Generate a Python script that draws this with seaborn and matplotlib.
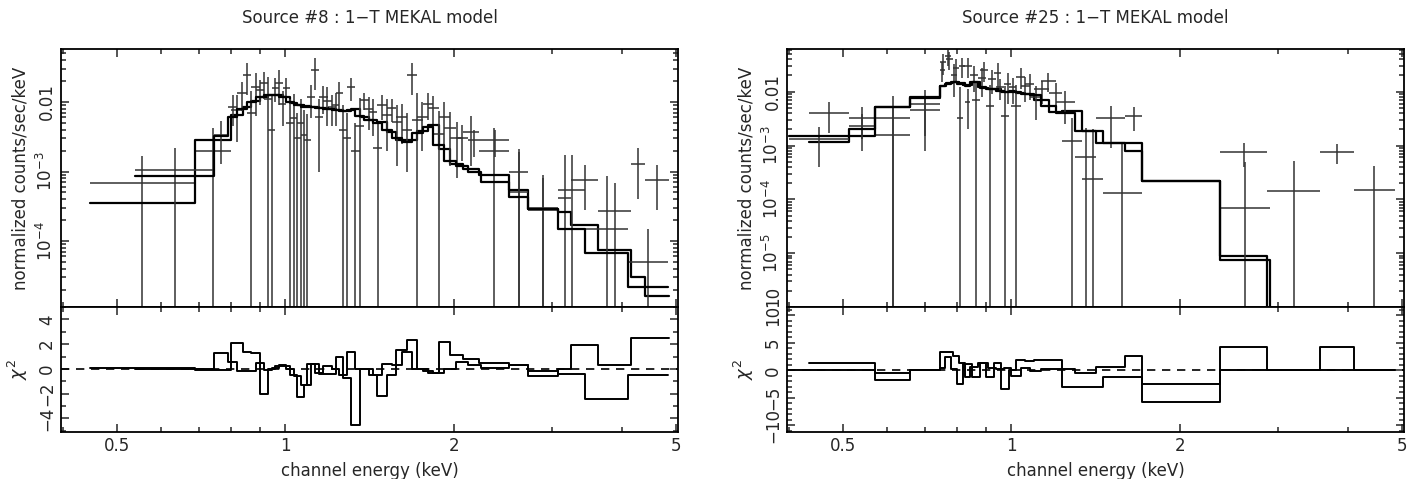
import numpy as np
import pandas as pd
import matplotlib
matplotlib.use('Agg')
import matplotlib.pyplot as plt
import seaborn as sns
from matplotlib.ticker import FixedLocator, FixedFormatter, NullFormatter, MultipleLocator

# ---------------- Source #8 (left) ----------------
titles = ['Source #8 : 1\u2212T MEKAL model', 'Source #25 : 1\u2212T MEKAL model']

s8_a_edges = [0.447, 0.689, 0.80, 0.84, 0.87, 0.90, 0.93, 0.96, 0.99, 1.02, 1.05, 1.08, 1.11, 1.15, 1.19,
              1.23, 1.27, 1.31, 1.36, 1.41, 1.46, 1.52, 1.58, 1.65, 1.72, 1.80, 1.88, 1.97, 2.08, 2.22,
              2.51, 2.72, 3.08, 3.25, 3.63, 4.15, 4.40, 4.85]
s8_a_model = [3.5e-4, 2.8e-3, 6.5e-3, 8.5e-3, 0.0105, 0.0120, 0.0128, 0.0128, 0.0120, 0.0098, 0.0090, 0.0087,
              0.0085, 0.0082, 0.0080, 0.0076, 0.0075, 0.0080, 0.0060, 0.0055, 0.0052, 0.0037, 0.0028, 0.0028,
              0.0038, 0.0046, 0.0021, 0.0013, 0.0011, 9.0e-4, 5.4e-4, 2.9e-4, 2.6e-4, 1.7e-4, 7.4e-5, 3.0e-5, 1.6e-5]
s8_a_data = [6.8e-4, 2.0e-3, 7.7e-3, 0.0245, 0.0164, 0.019, 0.004, 0.019, 0.016, 0.0059, 0.005, 0.0028,
             0.029, 0.0118, 0.0085, 0.0135, 0.003, 0.002, 0.0107, 0.0072, 0.0091, 0.0082, 0.006, 0.0245,
             0.006, 0.0082, 0.006, 0.003, 0.0037, 0.002, 0.001, 2.8e-4, 4.2e-4, 7.6e-4, 2.7e-4, 1.3e-3, 7.6e-4]
s8_a_err = [1.0e-3, 2.2e-3, 5e-3, 0.012, 0.010, 0.008, 0.0086, 0.010, 0.006, 0.007, 0.006, 0.004, 0.014,
            0.005, 0.004, 0.006, 0.004, 0.003, 0.003, 0.004, 0.0035, 0.003, 0.0035, 0.012, 0.004, 0.004,
            0.004, 0.0022, 0.0025, 0.0022, 0.0011, 6e-4, 1.3e-3, 4.8e-4, 4.1e-4, 9e-4, 4.8e-4]
s8_a_chi = [0.1, -0.1, 2.1, 1.4, 1.3, -2.0, 0.0, 0.2, 0.2, -0.5, -2.3, -1.3, 0.4, -0.4, -0.4, 1.0, -0.7,
            -4.5, 0.0, -0.5, -2.2, -0.5, 1.5, 2.3, 0.0, -0.3, 2.2, 1.1, 0.8, 0.5, 0.3, -0.6, 0.0, 1.9, 0.3,
            2.5, 2.5]

s8_b_edges = [0.538, 0.747, 0.79, 0.82, 0.855, 0.885, 0.915, 0.945, 0.975, 1.005, 1.035, 1.065, 1.095,
              1.13, 1.17, 1.21, 1.25, 1.29, 1.335, 1.385, 1.435, 1.49, 1.55, 1.615, 1.685, 1.76, 1.84,
              1.925, 2.02, 2.12, 2.24, 2.51, 2.72, 3.08, 3.44, 4.10, 4.83]
s8_b_model = [8.6e-4, 3.2e-3, 6.0e-3, 8.0e-3, 0.0100, 0.0118, 0.0125, 0.0125, 0.0118, 0.0100, 0.0090,
              0.0086, 0.0084, 0.0081, 0.0079, 0.0076, 0.0074, 0.0078, 0.0062, 0.0055, 0.0050, 0.0040,
              0.0030, 0.0027, 0.0036, 0.0044, 0.0024, 0.0014, 0.0012, 0.0010, 7.0e-4, 4.3e-4, 2.9e-4,
              1.5e-4, 6.7e-5, 2.2e-5]
s8_b_data = [1.05e-3, 3.3e-3, 0.0085, 0.0135, 0.0070, 0.0150, 0.0110, 0.0160, 0.0095, 0.0050, 0.0030,
             0.0033, 0.0118, 0.0060, 0.0105, 0.0090, 0.0040, 0.0164, 0.0045, 0.0080, 0.0022, 0.0065,
             0.0052, 0.0040, 0.0055, 0.0095, 0.0035, 0.0042, 0.0030, 0.0028, 0.0028, 5.0e-4, 3.0e-4,
             5.4e-4, 1.5e-4, 5e-5]
s8_b_err = [1.15e-3, 2.0e-3, 0.004, 0.006, 0.0075, 0.006, 0.012, 0.006, 0.005, 0.006, 0.004, 0.0045,
            0.006, 0.005, 0.006, 0.0045, 0.005, 0.006, 0.007, 0.004, 0.003, 0.0045, 0.004, 0.003, 0.008,
            0.004, 0.004, 0.003, 0.0016, 0.0012, 0.0012, 1.4e-3, 5e-4, 1.2e-3, 7e-4, 1.0e-4]
s8_b_chi = [0.0, 1.3, 0.6, -0.2, -0.2, 0.5, -0.1, 0.1, 0.3, 0.0, -0.6, -1.3, 0.4, -0.3, 0.2, 0.0, -0.5,
            1.4, 0.0, 0.0, -0.5, 0.4, 0.3, 1.4, 0.0, -0.2, -0.3, 0.0, 0.6, 0.3, 0.1, 0.3, -0.2, -0.4,
            -2.4, -0.5]

# ---------------- Source #25 (right) ----------------
s25_a_edges = [0.435, 0.512, 0.57, 0.66, 0.745, 0.765, 0.785, 0.805, 0.825, 0.845, 0.87, 0.90, 0.93,
               0.96, 0.99, 1.02, 1.06, 1.10, 1.17, 1.23, 1.34, 1.46, 1.71, 2.36, 2.87, 3.56, 4.10, 4.85]
s25_a_model = [1.15e-3, 1.5e-3, 5.3e-3, 8.0e-3, 0.0125, 0.0145, 0.015, 0.0145, 0.0130, 0.0150, 0.0120,
               0.0110, 0.0110, 0.0100, 0.0105, 0.0095, 0.0090, 0.0070, 0.0042, 0.0043, 0.0019, 0.0011,
               2.2e-4, 8.7e-6, 3e-7, 3e-7, 3e-7]
s25_a_data = [4.1e-3, 3.3e-3, 1.6e-3, 5.8e-3, 0.035, 0.040, 0.028, 0.030, 6.5e-3, 0.020, 0.018, 5.5e-3,
              0.022, 3.5e-3, 0.012, 0.019, 0.014, 0.011, 0.0095, 1.2e-3, 2.4e-4, 1.3e-4, 2e-7, 7.5e-4,
              1.4e-4, 7.5e-4, 1.5e-4]
s25_a_err = [2.4e-3, 2.0e-3, 3.4e-3, 5.0e-3, 0.015, 0.015, 0.012, 0.012, 4.5e-3, 0.010, 0.010, 8e-3,
             0.012, 9e-3, 6e-3, 8e-3, 7e-3, 5e-3, 5e-3, 2.1e-3, 1.8e-3, 1.0e-3, 5e-7, 3.5e-4, 3.8e-4,
             3.0e-4, 2.7e-4]
s25_a_chi = [1.3, 1.3, -1.7, 0.0, 3.3, 3.3, 2.7, 1.3, -1.2, 0.7, 1.3, -1.2, 1.3, -3.4, 0.0, 1.9, 1.7,
             1.9, 1.9, -3.1, -3.1, -1.2, -5.8, 4.3, 0.0, 4.3, 0.1]

s25_b_edges = [0.40, 0.512, 0.57, 0.66, 0.745, 0.76, 0.78, 0.80, 0.82, 0.85, 0.88, 0.91, 0.94, 0.97,
               1.00, 1.04, 1.08, 1.13, 1.20, 1.30, 1.42, 1.60, 1.71, 2.36, 2.90, 3.56, 4.10, 4.85]
s25_b_model = [1.5e-3, 2.0e-3, 5.1e-3, 7.5e-3, 0.0125, 0.0140, 0.0150, 0.0140, 0.0135, 0.0150, 0.0115,
               0.0110, 0.0105, 0.0100, 0.0100, 0.0090, 0.0085, 0.0055, 0.0041, 0.0019, 0.0011, 7.9e-4,
               2.2e-4, 7.4e-6, 3e-7, 3e-7, 3e-7]
s25_b_data = [1.3e-3, 2.3e-3, 3.3e-3, 4.5e-3, 0.025, 0.045, 0.020, 3.3e-3, 0.030, 7.0e-3, 0.025, 0.017,
              0.012, 0.014, 5.5e-3, 0.0125, 0.008, 0.016, 6.5e-3, 6e-4, 3.2e-3, 3.6e-3, 2e-7, 7e-5, 2e-7,
              2e-7, 2e-7]
s25_b_err = [9e-4, 1.5e-3, 5e-3, 3e-3, 0.010, 0.015, 0.012, 9e-3, 0.012, 9e-3, 0.010, 8e-3, 5e-3, 8e-3,
             8e-3, 6e-3, 5e-3, 6e-3, 4e-3, 1.5e-3, 2.3e-3, 1.7e-3, 5e-7, 4.2e-4, 5e-7, 5e-7, 5e-7]
s25_b_chi = [0.0, 0.1, -0.4, 0.0, 0.5, 2.5, 0.3, -2.5, 1.2, -1.2, 1.3, 0.5, 0.2, 0.4, -1.0, 0.5, -0.2,
             0.3, 0.3, -0.4, 0.7, 2.7, -2.5, 0.0, 0.0, 0.0, 0.0]

x_ticks = [0.5, 1, 2, 5]
x_labels = ['0.5', '1', '2', '5']

s8_yticks = [1e-4, 1e-3, 1e-2]
s8_ylabels = [r'$10^{-4}$', r'$10^{-3}$', '0.01']
s25_yticks = [1e-6, 1e-5, 1e-4, 1e-3, 1e-2]
s25_ylabels = ['10', r'$10^{-5}$', r'$10^{-4}$', r'$10^{-3}$', '0.01']

s8_rticks = [-4, -2, 0, 2, 4]
s25_rticks = [-10, -5, 0, 5, 10]


sns.set_style('ticks')
plt.rcParams['font.family'] = ['DejaVu Sans']
plt.rcParams['mathtext.fontset'] = 'dejavusans'
plt.rcParams['axes.linewidth'] = 1.3

FS = 12

fig = plt.figure(figsize=(14.17, 4.79), dpi=100)


def style_axes(ax):
    ax.tick_params(which='both', direction='in', top=True, right=True, width=1.1, labelsize=FS)
    ax.tick_params(which='major', length=6)
    ax.tick_params(which='minor', length=3.5)
    for sp in ax.spines.values():
        sp.set_color('black')


def steps(ax, edges, vals, lw):
    df = pd.DataFrame({'E': edges, 'v': list(vals) + [vals[-1]]})
    sns.lineplot(data=df, x='E', y='v', ax=ax, drawstyle='steps-post', estimator=None,
                 sort=False, color='black', lw=lw, legend=False)


def spectrum(ax, edges, model, data, err, ybottom):
    e = np.array(edges)
    lo, hi = e[:-1], e[1:]
    xc = np.sqrt(lo * hi)
    d = np.array(data)
    s = np.array(err)
    low = np.where(d - s > 0, s, d - ybottom * 0.01)
    ax.errorbar(xc, d, xerr=[xc - lo, hi - xc], yerr=[low, s], fmt='none',
                ecolor='#333333', elinewidth=1.1, capsize=0)
    steps(ax, edges, model, 1.6)


panels = [
    dict(left=0.043, title=titles[0], ylim=(1.12e-5, 0.058), yt=s8_yticks, yl=s8_ylabels,
         rlim=(-5.1, 5.0), rt=s8_rticks,
         sets=[(s8_a_edges, s8_a_model, s8_a_data, s8_a_err, s8_a_chi),
               (s8_b_edges, s8_b_model, s8_b_data, s8_b_err, s8_b_chi)]),
    dict(left=0.5554, title=titles[1], ylim=(1e-6, 0.062), yt=s25_yticks, yl=s25_ylabels,
         rlim=(-11.2, 11.5), rt=s25_rticks,
         sets=[(s25_a_edges, s25_a_model, s25_a_data, s25_a_err, s25_a_chi),
               (s25_b_edges, s25_b_model, s25_b_data, s25_b_err, s25_b_chi)]),
]

width = 0.4355
for p in panels:
    ax = fig.add_axes([p['left'], 0.359, width, 0.5387])
    axr = fig.add_axes([p['left'], 0.098, width, 0.261], sharex=ax)
    ax.set_xscale('log')
    ax.set_yscale('log')

    for edges, model, data, err, chi in p['sets']:
        spectrum(ax, edges, model, data, err, p['ylim'][0])
        steps(axr, edges, chi, 1.4)
    axr.axhline(0, color='black', ls=(0, (5, 4)), lw=1.2)

    ax.set_xlim(0.397, 5.04)
    ax.set_ylim(*p['ylim'])
    ax.yaxis.set_major_locator(FixedLocator(p['yt']))
    ax.yaxis.set_major_formatter(FixedFormatter(p['yl']))
    ax.yaxis.set_minor_locator(matplotlib.ticker.LogLocator(base=10, subs=np.arange(2, 10), numticks=20))
    ax.yaxis.set_minor_formatter(NullFormatter())
    style_axes(ax)
    style_axes(axr)

    ylabs = ax.get_yticklabels()
    for i, lab in enumerate(ylabs):
        lab.set_rotation(90)
        lab.set_va('bottom' if p['yt'][i] == p['ylim'][0] else 'center')
    ax.set_ylabel('normalized counts/sec/keV', fontsize=FS, labelpad=5)
    ax.set_xlabel('')
    ax.set_title(p['title'], fontsize=FS, pad=19)
    plt.setp(ax.get_xticklabels(which='both'), visible=False)

    axr.set_ylim(*p['rlim'])
    axr.yaxis.set_major_locator(FixedLocator(p['rt']))
    axr.yaxis.set_minor_locator(MultipleLocator(1))
    for lab in axr.get_yticklabels():
        lab.set_rotation(90)
        lab.set_va('center')
    axr.xaxis.set_major_locator(FixedLocator(x_ticks))
    axr.xaxis.set_major_formatter(FixedFormatter(x_labels))
    axr.xaxis.set_minor_locator(FixedLocator([0.4, 0.6, 0.7, 0.8, 0.9, 3, 4]))
    axr.xaxis.set_minor_formatter(NullFormatter())
    axr.set_xlabel('channel energy (keV)', fontsize=FS, labelpad=5)
    axr.set_ylabel(r'$\chi^2$', fontsize=13, labelpad=6)

fig.savefig('out.png', dpi=100)
